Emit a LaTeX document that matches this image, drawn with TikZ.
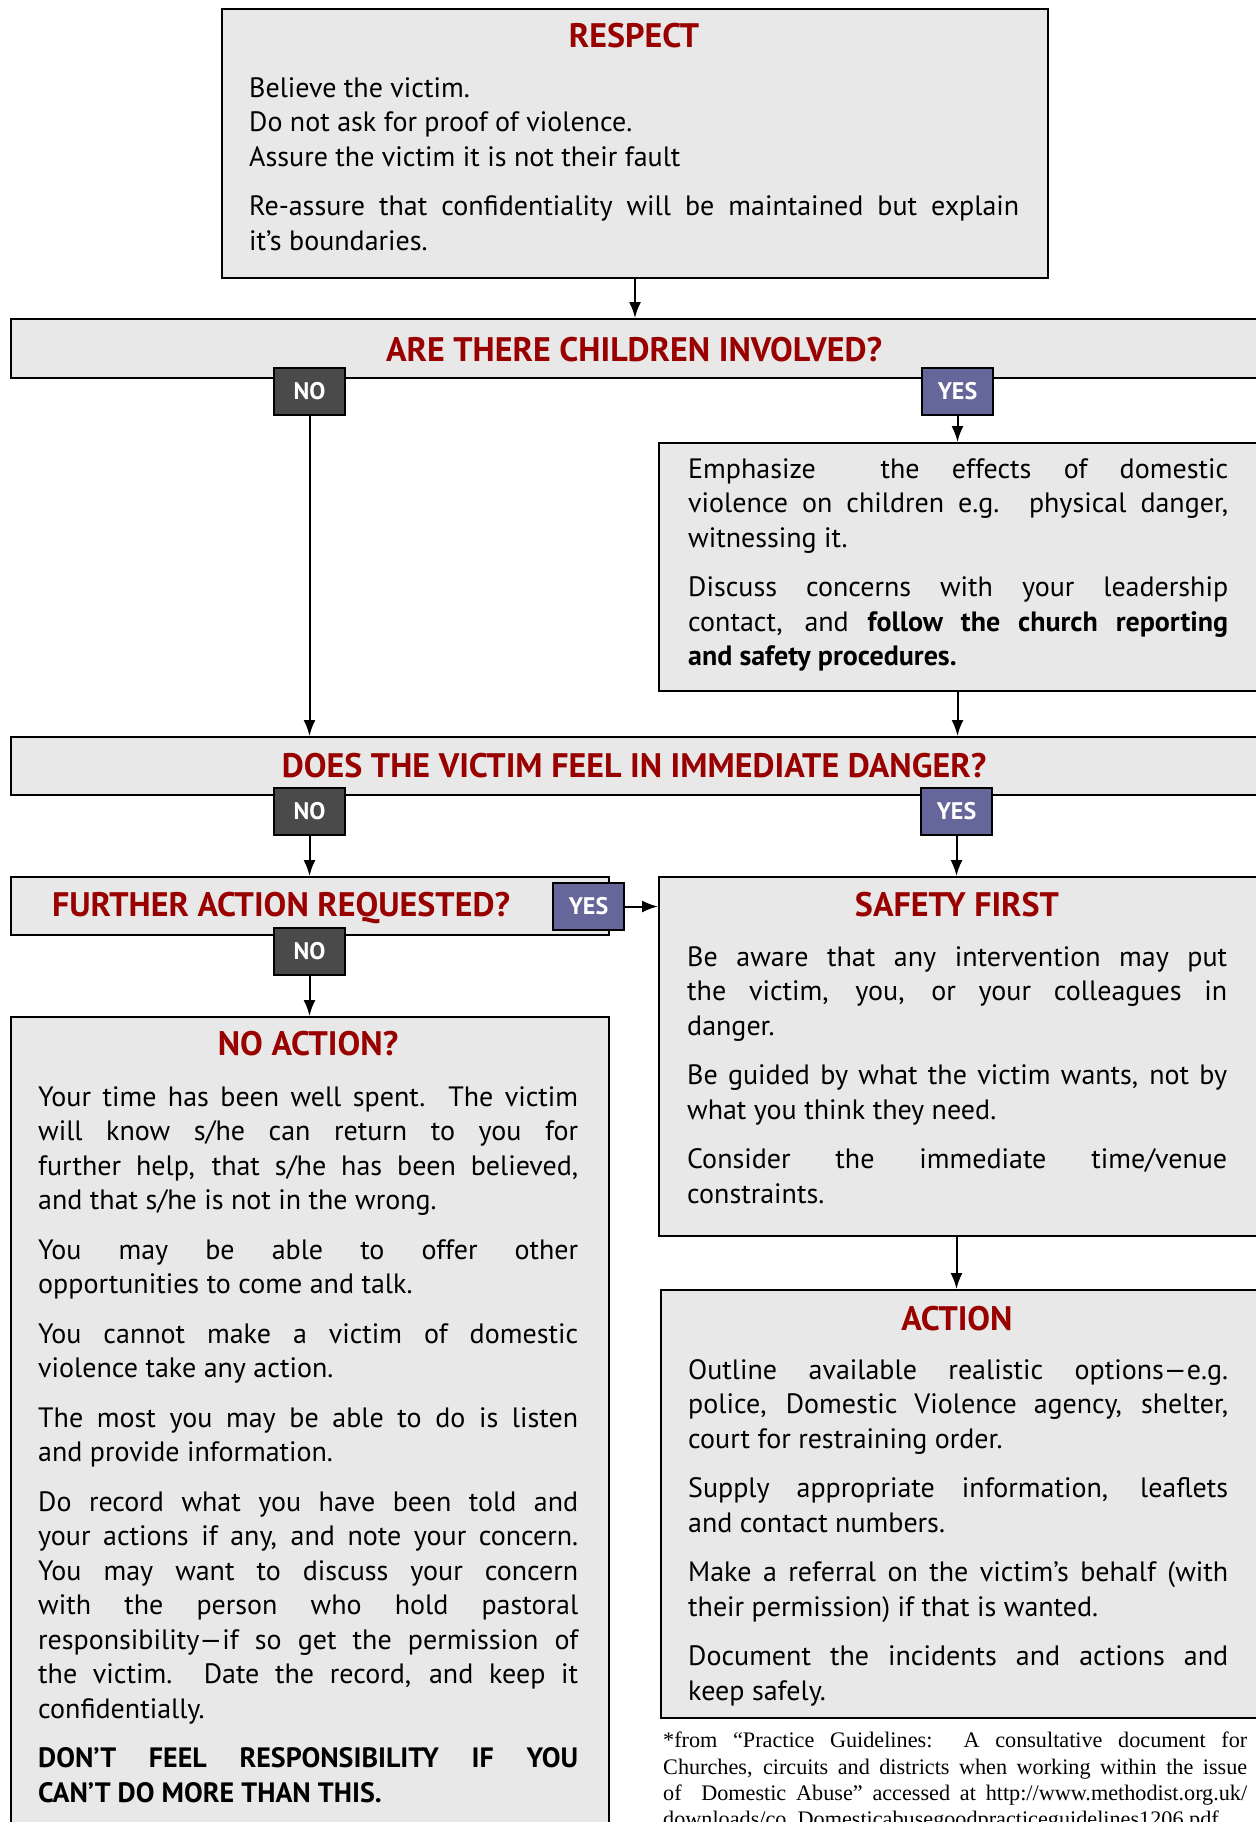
\documentclass[tikz,border=0pt]{standalone}
\usepackage{fontspec}
\setmainfont{PT Sans}
\newfontfamily\notefont{Liberation Serif}
\usetikzlibrary{arrows.meta}

\definecolor{boxgray}{HTML}{E8E8E8}
\definecolor{titlered}{HTML}{990000}
\definecolor{nogray}{HTML}{4A4A4A}
\definecolor{yesblue}{HTML}{65679A}

% 不断字, 只拉伸空格
\tolerance=10000
\hyphenpenalty=10000
% 段落之间的空隙
\newcommand{\gap}{\par\vspace{15pt}}

\tikzset{
  panel/.style={draw=black, line width=2pt, fill=boxgray, anchor=north west, inner sep=0pt},
  heading/.style={text=titlered, anchor=base, inner sep=0pt, font=\fontsize{34}{38}\selectfont\bfseries},
  bodytext/.style={anchor=north west, text width=540pt, align=justify, inner sep=0pt,
    font=\fontsize{28}{34.5}\selectfont},
  notag/.style={draw=black, line width=2pt, fill=nogray, text=white, inner sep=0pt,
    minimum width=71pt, minimum height=47pt, font=\fontsize{24}{26}\selectfont\bfseries},
  yestag/.style={notag, fill=yesblue},
  flow/.style={-{Latex[length=16pt,width=12pt]}, line width=2pt},
}

\begin{document}
\begin{tikzpicture}[x=1pt, y=-1pt]
  \useasboundingbox (0,0) rectangle (1255,1822);

  % 方框 (左上角坐标)
  \node[panel, minimum width=826pt, minimum height=269pt] (respect) at (221,8) {};
  \node[panel, minimum width=1250pt, minimum height=59pt] (children) at (10,318) {};
  \node[panel, minimum width=602pt, minimum height=248pt] (effects) at (658,442) {};
  \node[panel, minimum width=1250pt, minimum height=58pt] (danger) at (10,736) {};
  \node[panel, minimum width=598pt, minimum height=58pt] (further) at (10,876) {};
  \node[panel, minimum width=602pt, minimum height=359pt] (safety) at (658,876) {};
  \node[panel, minimum width=600pt, minimum height=428pt] (action) at (660,1289) {};
  \node[panel, minimum width=598pt, minimum height=830pt] (noaction) at (10,1016) {};

  % 标题 (基线坐标)
  \node[heading] at (634,48) {RESPECT};
  \node[heading] at (634,361) {ARE THERE CHILDREN INVOLVED?};
  \node[heading] at (634,777) {DOES THE VICTIM FEEL IN IMMEDIATE DANGER?};
  \node[heading] at (281,916) {FURTHER ACTION REQUESTED?};
  \node[heading] at (957,916) {SAFETY FIRST};
  \node[heading] at (957,1330) {ACTION};
  \node[heading] at (308,1055) {NO ACTION?};

  % 正文
  \node[bodytext, text width=770pt] (respecttext) at (249,77) {
    Believe the victim.\par
    Do not ask for proof of violence.\par
    Assure the victim it is not their fault\gap
    Re-assure that confidentiality will be maintained but explain \linebreak it’s boundaries.};

  \node[bodytext] (effectstext) at (688,458) {
    Emphasize\ \ the effects of domestic \linebreak
    violence on children e.g. physical danger, \linebreak
    witnessing it.\gap
    Discuss concerns with your leadership \linebreak
    contact, and \textbf{follow the church reporting \linebreak
    and safety procedures.}};

  \node[bodytext] (safetytext) at (687,946) {
    Be aware that any intervention may put \linebreak
    the victim, you, or your colleagues in \linebreak
    danger.\gap
    Be guided by what the victim wants, not by \linebreak
    what you think they need.\gap
    Consider the immediate time/venue \linebreak
    constraints.};

  \node[bodytext] (actiontext) at (688,1359) {
    Outline available realistic options—e.g. \linebreak
    police, Domestic Violence agency, shelter, \linebreak
    court for restraining order.\gap
    Supply appropriate information, leaflets \linebreak
    and contact numbers.\gap
    Make a referral on the victim’s behalf (with \linebreak
    their permission) if that is wanted.\gap
    Document the incidents and actions and \linebreak
    keep safely.};

  \node[bodytext] (noactiontext) at (38,1086) {
    Your time has been well spent.\ \ The victim \linebreak
    will know s/he can return to you for \linebreak
    further help, that s/he has been believed, \linebreak
    and that s/he is not in the wrong.\gap
    You may be able to offer other \linebreak
    opportunities to come and talk.\gap
    You cannot make a victim of domestic \linebreak
    violence take any action.\gap
    The most you may be able to do is listen \linebreak
    and provide information.\gap
    Do record what you have been told and \linebreak
    your actions if any, and note your concern. \linebreak
    You may want to discuss your concern \linebreak
    with the person who hold pastoral \linebreak
    responsibility—if so get the permission of \linebreak
    the victim.\ \ Date the record, and keep it \linebreak
    confidentially.\gap
    \textbf{DON’T FEEL RESPONSIBILITY IF YOU \linebreak
    CAN’T DO MORE THAN THIS.}};

  % 脚注
  \node[bodytext, text width=584pt, font=\notefont\fontsize{22.2}{26.2}\selectfont]
    (source) at (663,1732) {
    *from “Practice Guidelines:\ \ A consultative document for \linebreak
    Churches, circuits and districts when working within the issue \linebreak
    of\ \ Domestic Abuse” accessed at http://www.methodist.org.uk/ \linebreak
    downloads/co\_Domesticabusegoodpracticeguidelines1206.pdf};

  % NO / YES 标签
  \node[notag, anchor=north west] (no1) at (273,367) {NO};
  \node[yestag, anchor=north west] (yes1) at (921,367) {YES};
  \node[notag, anchor=north west] (no2) at (273,787) {NO};
  \node[yestag, anchor=north west] (yes2) at (920,787) {YES};
  \node[yestag, anchor=north west] (yes3) at (552,882) {YES};
  \node[notag, anchor=north west] (no3) at (273,927) {NO};

  % 箭头
  \draw[flow] (respect.south) -- (children.north -| respect.south);
  \draw[flow] (no1.south) -- (no1.south |- danger.north);
  \draw[flow] (yes1.south) -- (yes1.south |- effects.north);
  \draw[flow] (effects.south -| yes1.south) -- (yes1.south |- danger.north);
  \draw[flow] (no2.south) -- (no2.south |- further.north);
  \draw[flow] (yes2.south) -- (yes2.south |- safety.north);
  \draw[flow] (yes3.east) -- (yes3.east -| safety.west);
  \draw[flow] (no3.south) -- (no3.south |- noaction.north);
  \draw[flow] (safety.south -| yes2.south) -- (yes2.south |- action.north);
\end{tikzpicture}
\end{document}
